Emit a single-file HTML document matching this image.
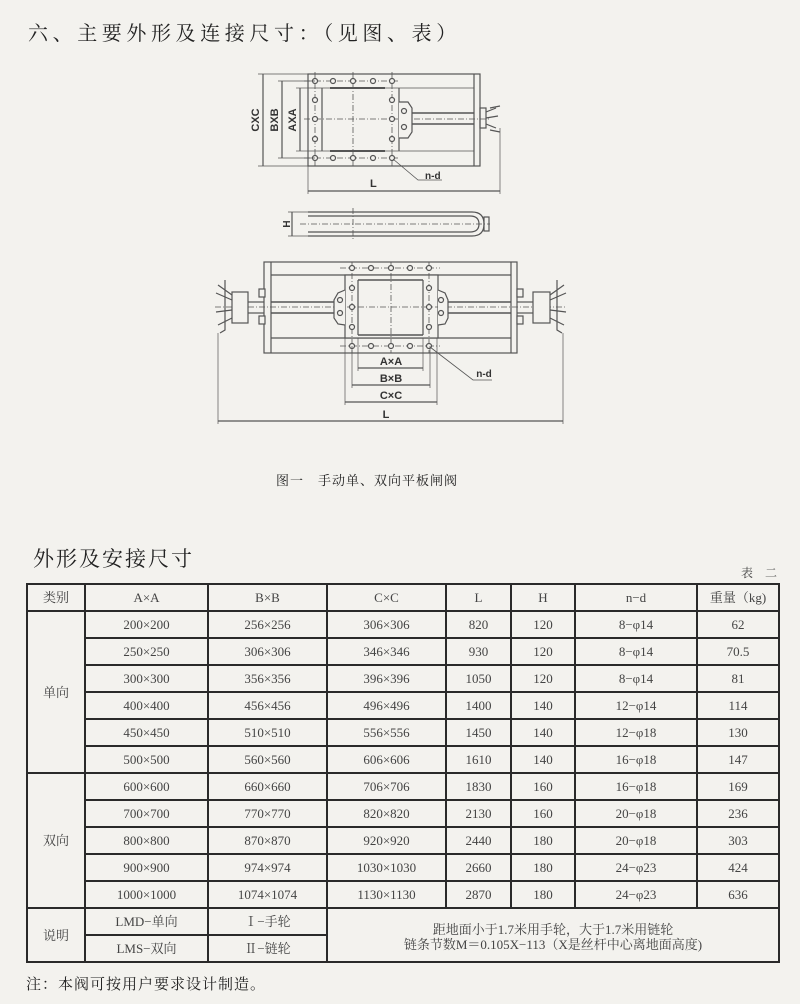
<!DOCTYPE html>
<html><head><meta charset="utf-8"><style>
body{margin:0;width:800px;height:1004px;background:#f3f2ee;position:relative;overflow:hidden;font-family:"Liberation Serif","Noto Serif CJK SC",serif;color:#222}
.t{position:absolute;white-space:nowrap}
table{position:absolute;left:26px;top:583px;border-collapse:collapse;font-size:13px;color:#444;table-layout:fixed}
td{border:2px solid #2a2a2a;text-align:center;padding:0;height:25px;line-height:25px}
</style></head><body>
<div class="t" style="left:28px;top:17px;font-size:20px;letter-spacing:4.6px">六、主要外形及连接尺寸：（见图、表）</div>
<svg width="800" height="500" style="position:absolute;left:0;top:0" fill="none" stroke="#555" stroke-width="1.2" font-family="Liberation Sans,sans-serif">
<rect x="308" y="74" width="172" height="92"/>
<line x1="474" y1="74" x2="474" y2="166"/>
<line x1="322" y1="88" x2="322" y2="151"/><line x1="399" y1="88" x2="399" y2="151"/>
<line x1="308" y1="88" x2="474" y2="88" stroke-width="0.8"/><line x1="308" y1="151" x2="474" y2="151" stroke-width="0.8"/>
<line x1="330" y1="88" x2="385" y2="88" stroke-width="2"/><line x1="330" y1="151" x2="385" y2="151" stroke-width="2"/>
<g stroke-dasharray="6 2 1 2" stroke-width="0.8"><line x1="304" y1="81" x2="400" y2="81"/><line x1="304" y1="158" x2="400" y2="158"/><line x1="304" y1="119" x2="490" y2="119"/><line x1="353" y1="72" x2="353" y2="168"/><line x1="315" y1="72" x2="315" y2="168"/><line x1="392" y1="72" x2="392" y2="168"/></g>
<g fill="#f3f2ee"><circle cx="315" cy="81" r="2.5"/><circle cx="333" cy="81" r="2.5"/><circle cx="353" cy="81" r="2.5"/><circle cx="373" cy="81" r="2.5"/><circle cx="392" cy="81" r="2.5"/>
<circle cx="315" cy="158" r="2.5"/><circle cx="333" cy="158" r="2.5"/><circle cx="353" cy="158" r="2.5"/><circle cx="373" cy="158" r="2.5"/><circle cx="392" cy="158" r="2.5"/>
<circle cx="315" cy="100" r="2.5"/><circle cx="315" cy="119" r="2.5"/><circle cx="315" cy="139" r="2.5"/><circle cx="392" cy="100" r="2.5"/><circle cx="392" cy="119" r="2.5"/><circle cx="392" cy="139" r="2.5"/>
<path d="M399 102 L408 102 L412 108 L412 132 L408 138 L399 138"/><circle cx="404" cy="111" r="2.5"/><circle cx="404" cy="127" r="2.5"/></g>
<line x1="412" y1="113" x2="474" y2="113" stroke-width="1.6"/><line x1="412" y1="124" x2="474" y2="124" stroke-width="1.6"/>
<rect x="480" y="108" width="6" height="20"/><path d="M486 112 L496 108 M486 118 L498 116 M486 124 L496 128 M490 108 L500 106 M490 130 L500 132"/>
<line x1="263" y1="74" x2="263" y2="166"/><line x1="258" y1="74" x2="308" y2="74" stroke-width="0.7"/><line x1="258" y1="166" x2="308" y2="166" stroke-width="0.7"/>
<line x1="282" y1="81" x2="282" y2="158"/><line x1="278" y1="81" x2="315" y2="81" stroke-width="0.7"/><line x1="278" y1="158" x2="315" y2="158" stroke-width="0.7"/>
<line x1="300" y1="88" x2="300" y2="151"/><line x1="296" y1="88" x2="308" y2="88" stroke-width="0.7"/><line x1="296" y1="151" x2="308" y2="151" stroke-width="0.7"/>
<g fill="#333" stroke="none" font-size="11" font-weight="bold"><text transform="translate(262,120) rotate(-90)" text-anchor="middle" dy="-3">CXC</text><text transform="translate(281,120) rotate(-90)" text-anchor="middle" dy="-3">BXB</text><text transform="translate(299,120) rotate(-90)" text-anchor="middle" dy="-3">AXA</text>
<text x="370" y="187">L</text><text x="425" y="179" font-size="10">n-d</text></g>
<line x1="308" y1="166" x2="308" y2="194" stroke-width="0.7"/><line x1="500" y1="128" x2="500" y2="194" stroke-width="0.7"/>
<line x1="308" y1="191" x2="500" y2="191"/>
<path d="M393 159 L418 180 L442 180" stroke-width="0.8"/>
<path d="M308 212 L472 212 Q484 212 484 224 Q484 236 472 236 L308 236"/><path d="M308 216 L470 216 Q479 216 479 224 Q479 232 470 232 L308 232"/>
<rect x="484" y="217" width="5" height="14"/>
<line x1="300" y1="224" x2="490" y2="224" stroke-dasharray="6 2 1 2" stroke-width="0.8"/><line x1="353" y1="208" x2="353" y2="240" stroke-dasharray="6 2 1 2" stroke-width="0.8"/>
<line x1="292" y1="212" x2="292" y2="236"/><line x1="288" y1="212" x2="308" y2="212" stroke-width="0.7"/><line x1="288" y1="236" x2="308" y2="236" stroke-width="0.7"/>
<text transform="translate(290,224) rotate(-90)" text-anchor="middle" fill="#333" stroke="none" font-size="10" font-weight="bold">H</text>
<rect x="264" y="262" width="253" height="91"/>
<line x1="271" y1="262" x2="271" y2="353"/><line x1="511" y1="262" x2="511" y2="353"/>
<line x1="271" y1="275" x2="511" y2="275"/><line x1="271" y1="338" x2="511" y2="338"/>
<line x1="271" y1="302" x2="511" y2="302" stroke-width="1.6"/><line x1="271" y1="313" x2="511" y2="313" stroke-width="1.6"/>
<rect x="345" y="275" width="93" height="63" fill="#f3f2ee"/>
<line x1="358" y1="280" x2="358" y2="335"/><line x1="423" y1="280" x2="423" y2="335"/>
<line x1="358" y1="280" x2="423" y2="280" stroke-width="1.6"/><line x1="358" y1="335" x2="423" y2="335" stroke-width="1.6"/>
<g stroke-dasharray="6 2 1 2" stroke-width="0.8"><line x1="340" y1="268" x2="440" y2="268"/><line x1="340" y1="346" x2="440" y2="346"/><line x1="215" y1="307" x2="565" y2="307"/><line x1="391" y1="262" x2="391" y2="353"/><line x1="352" y1="262" x2="352" y2="353"/><line x1="429" y1="262" x2="429" y2="353"/></g>
<g fill="#f3f2ee"><circle cx="352" cy="268" r="2.5"/><circle cx="371" cy="268" r="2.5"/><circle cx="391" cy="268" r="2.5"/><circle cx="410" cy="268" r="2.5"/><circle cx="429" cy="268" r="2.5"/>
<circle cx="352" cy="346" r="2.5"/><circle cx="371" cy="346" r="2.5"/><circle cx="391" cy="346" r="2.5"/><circle cx="410" cy="346" r="2.5"/><circle cx="429" cy="346" r="2.5"/>
<circle cx="352" cy="288" r="2.5"/><circle cx="352" cy="307" r="2.5"/><circle cx="352" cy="327" r="2.5"/><circle cx="429" cy="288" r="2.5"/><circle cx="429" cy="307" r="2.5"/><circle cx="429" cy="327" r="2.5"/>
<path d="M345 290 L338 293 L334 300 L334 318 L338 324 L345 325"/><path d="M438 290 L445 293 L448 300 L448 318 L445 324 L438 325"/>
<circle cx="340" cy="300" r="2.5"/><circle cx="340" cy="313" r="2.5"/><circle cx="441" cy="300" r="2.5"/><circle cx="441" cy="313" r="2.5"/>
<rect x="232" y="292" width="16" height="31"/><rect x="533" y="292" width="17" height="31"/>
<rect x="259" y="289" width="6" height="8"/><rect x="259" y="316" width="6" height="8"/><rect x="517" y="289" width="6" height="8"/><rect x="517" y="316" width="6" height="8"/></g>
<line x1="248" y1="302" x2="264" y2="302"/><line x1="248" y1="313" x2="264" y2="313"/><line x1="517" y1="302" x2="533" y2="302"/><line x1="517" y1="313" x2="533" y2="313"/>
<path d="M232 295 L218 285 M232 300 L216 293 M232 310 L216 312 M232 318 L218 325 M225 280 L225 330 L220 333"/>
<path d="M550 295 L564 285 M550 300 L566 293 M550 310 L566 312 M550 318 L564 325 M557 280 L557 330 L562 333"/>
<line x1="218" y1="333" x2="218" y2="424" stroke-width="0.7"/><line x1="563" y1="333" x2="563" y2="424" stroke-width="0.7"/>
<line x1="218" y1="421" x2="563" y2="421"/>
<line x1="358" y1="338" x2="358" y2="371" stroke-width="0.7"/><line x1="423" y1="338" x2="423" y2="371" stroke-width="0.7"/><line x1="358" y1="368" x2="423" y2="368"/>
<line x1="352" y1="346" x2="352" y2="388" stroke-width="0.7"/><line x1="430" y1="346" x2="430" y2="388" stroke-width="0.7"/><line x1="352" y1="385" x2="430" y2="385"/>
<line x1="345" y1="338" x2="345" y2="405" stroke-width="0.7"/><line x1="437" y1="338" x2="437" y2="405" stroke-width="0.7"/><line x1="345" y1="402" x2="437" y2="402"/>
<path d="M430 347 L473 380 L492 380" stroke-width="0.8"/>
<g fill="#333" stroke="none" font-size="11" font-weight="bold" text-anchor="middle"><text x="391" y="365">A×A</text><text x="391" y="382">B×B</text><text x="391" y="399">C×C</text><text x="386" y="418">L</text><text x="484" y="377" font-size="10">n-d</text></g>
</svg>
<div class="t" style="left:276px;top:470px;font-size:13px;letter-spacing:1px">图一　手动单、双向平板闸阀</div>
<div class="t" style="left:33px;top:543px;font-size:21px;letter-spacing:2px">外形及安接尺寸</div>
<div class="t" style="left:741px;top:564px;font-size:12px;color:#444">表　二</div>
<table>
<colgroup><col style="width:58px"><col style="width:123px"><col style="width:119px"><col style="width:119px"><col style="width:65px"><col style="width:64px"><col style="width:122px"><col style="width:82px"></colgroup>
<tr><td>类别</td><td>A×A</td><td>B×B</td><td>C×C</td><td>L</td><td>H</td><td>n−d</td><td>重量（kg)</td></tr>
<tr><td rowspan="6">单向</td><td>200×200</td><td>256×256</td><td>306×306</td><td>820</td><td>120</td><td>8−φ14</td><td>62</td></tr>
<tr><td>250×250</td><td>306×306</td><td>346×346</td><td>930</td><td>120</td><td>8−φ14</td><td>70.5</td></tr>
<tr><td>300×300</td><td>356×356</td><td>396×396</td><td>1050</td><td>120</td><td>8−φ14</td><td>81</td></tr>
<tr><td>400×400</td><td>456×456</td><td>496×496</td><td>1400</td><td>140</td><td>12−φ14</td><td>114</td></tr>
<tr><td>450×450</td><td>510×510</td><td>556×556</td><td>1450</td><td>140</td><td>12−φ18</td><td>130</td></tr>
<tr><td>500×500</td><td>560×560</td><td>606×606</td><td>1610</td><td>140</td><td>16−φ18</td><td>147</td></tr>
<tr><td rowspan="5">双向</td><td>600×600</td><td>660×660</td><td>706×706</td><td>1830</td><td>160</td><td>16−φ18</td><td>169</td></tr>
<tr><td>700×700</td><td>770×770</td><td>820×820</td><td>2130</td><td>160</td><td>20−φ18</td><td>236</td></tr>
<tr><td>800×800</td><td>870×870</td><td>920×920</td><td>2440</td><td>180</td><td>20−φ18</td><td>303</td></tr>
<tr><td>900×900</td><td>974×974</td><td>1030×1030</td><td>2660</td><td>180</td><td>24−φ23</td><td>424</td></tr>
<tr><td>1000×1000</td><td>1074×1074</td><td>1130×1130</td><td>2870</td><td>180</td><td>24−φ23</td><td>636</td></tr>
<tr><td rowspan="2">说明</td><td>LMD−单向</td><td>Ⅰ−手轮</td><td colspan="5" rowspan="2" style="line-height:15px;padding-top:4px">距地面小于1.7米用手轮，大于1.7米用链轮<br>链条节数M＝0.105X−113（X是丝杆中心离地面高度)</td></tr>
<tr><td>LMS−双向</td><td>Ⅱ−链轮</td></tr>
</table>
<div class="t" style="left:26px;top:973px;font-size:15px;letter-spacing:1px">注：本阀可按用户要求设计制造。</div>
</body></html>
